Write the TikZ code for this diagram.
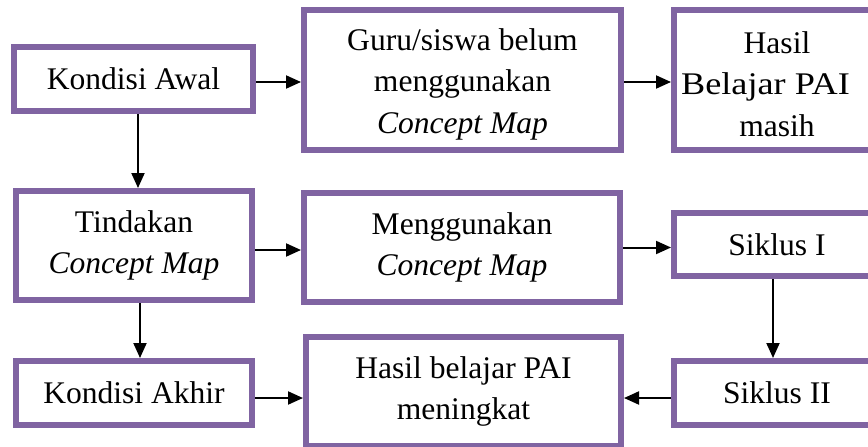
\documentclass[tikz,border=0pt]{standalone}
\usepackage{fontspec}
\usepackage{graphicx}
\setmainfont{Liberation Serif}
\usetikzlibrary{arrows.meta}
\definecolor{boxpurple}{HTML}{8064A2}
\newcommand{\tx}[1]{\scalebox{1.002}[1]{#1}}
\begin{document}
\begin{tikzpicture}[x=1pt,y=-1pt,
  box/.style={draw=boxpurple, line width=6pt, fill=white, rectangle, inner sep=0pt},
  lbl/.style={align=center, inner sep=0pt, font=\fontsize{31.5}{41.5}\selectfont},
  arr/.style={line width=2pt, -{Triangle[length=15pt,width=13pt]}}]
\useasboundingbox (0,0) rectangle (868,447);
\clip (0,0) rectangle (868,447);
% boxes
\node[box, minimum width=239pt, minimum height=64pt] (ka) at (133.5,79) {};
\node[box, minimum width=317pt, minimum height=140pt] (gs) at (462.5,80) {};
\node[box, minimum width=206pt, minimum height=140pt] (hm) at (777,80) {};
\node[box, minimum width=236pt, minimum height=109pt] (td) at (134,245.5) {};
\node[box, minimum width=316pt, minimum height=109pt] (mg) at (462,247.5) {};
\node[box, minimum width=206pt, minimum height=63pt] (s1) at (777,244.5) {};
\node[box, minimum width=236pt, minimum height=64pt] (kk) at (134,393) {};
\node[box, minimum width=315pt, minimum height=109pt] (hp) at (463.5,391.5) {};
\node[box, minimum width=206pt, minimum height=64pt] (s2) at (777,393) {};
% labels
\node[lbl] (lka) at (ka.center) {\tx{Kondisi Awal}};
\node[lbl, yshift=-4pt] (lgs) at (gs.center) {\tx{Guru/siswa belum}\\\tx{menggunakan}\\\tx{\textit{Concept Map}}};
\node[lbl, yshift=-4pt] (lhm) at (hm.center) {\tx{Hasil}\\\scalebox{1.15}[1]{Belajar PAI}\rule{23pt}{0pt}\\\tx{masih}};
\node[lbl] (ltd) at (td.center) {\tx{Tindakan}\\\tx{\textit{Concept Map}}};
\node[lbl] (lmg) at (mg.center) {\tx{Menggunakan}\\\tx{\textit{Concept Map}}};
\node[lbl] (ls1) at (s1.center) {\tx{Siklus I}};
\node[lbl] (lkk) at (kk.center) {\tx{Kondisi Akhir}};
\node[lbl] (lhp) at (hp.center) {\tx{Hasil belajar PAI}\\\tx{meningkat}};
\node[lbl] (ls2) at (s2.center) {\tx{Siklus II}};
% connectors
\draw[arr] ([yshift=-3pt]ka.east) -- ([yshift=-3pt]ka.east -| gs.west);
\draw[arr] ([yshift=-2pt]gs.east) -- ([yshift=-2pt]gs.east -| hm.west);
\draw[arr] ([xshift=4.5pt]ka.south) -- ([xshift=4.5pt]ka.south |- td.north);
\draw[arr] ([yshift=-4.5pt]td.east) -- ([yshift=-4.5pt]td.east -| mg.west);
\draw[arr] (mg.east) -- (mg.east -| s1.west);
\draw[arr] ([xshift=6pt]td.south) -- ([xshift=6pt]td.south |- kk.north);
\draw[arr] ([xshift=-4pt]s1.south) -- ([xshift=-4pt]s1.south |- s2.north);
\draw[arr] ([yshift=-5pt]kk.east) -- ([yshift=-5pt]kk.east -| hp.west);
\draw[arr] ([yshift=-5pt]s2.west) -- ([yshift=-5pt]s2.west -| hp.east);
\end{tikzpicture}
\end{document}
